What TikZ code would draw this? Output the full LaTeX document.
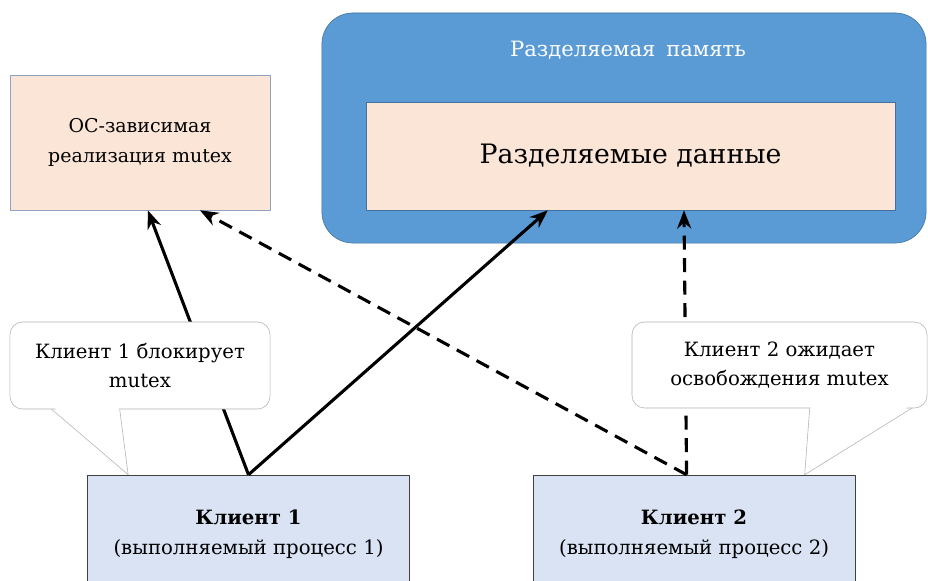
\documentclass[tikz,border=0pt]{standalone}
\usepackage{fontspec}
\setmainfont{DejaVu Serif}
\usetikzlibrary{calc,arrows.meta}
\definecolor{peach}{HTML}{FBE5D6}
\definecolor{shmfill}{HTML}{5B9BD5}
\definecolor{shmedge}{HTML}{41719C}
\definecolor{clientfill}{HTML}{DAE3F3}
\definecolor{osedge}{HTML}{8FA3BF}
\begin{document}
\begin{tikzpicture}[x=0.025cm, y=-0.025cm, line join=round, >={Stealth[length=13pt,width=10pt]},
	box/.style={rectangle, inner sep=0pt, align=center, font=\fontsize{14}{21}\selectfont},
	osbox/.style={box, draw=osedge, fill=peach, minimum width=6.5cm, minimum height=3.375cm, font=\fontsize{13.5}{21}\selectfont},
	clientbox/.style={box, draw=black!75, fill=clientfill, minimum width=8.05cm, minimum height=2.95cm},
	note/.style={box, draw=black!30, fill=white, rounded corners=9pt, font=\fontsize{14}{20}\selectfont},
	tail/.style={draw=black!30},
	link/.style={->, line width=2.2pt},
	waitlink/.style={link, dash pattern=on 10pt off 6pt}]
	\useasboundingbox (0,0) rectangle (928,580);
	\clip (0,0) rectangle (928,580);
	% shared memory
	\node[box, draw=shmedge, fill=shmfill, rounded corners=22pt, minimum width=15.1cm, minimum height=5.75cm] (shm) at (624,128) {};
	\node[font=\fontsize{15}{21}\selectfont, text=white] (shmtitle) at (628,50) {Разделяемая\hspace{0.2em} память};
	\node[box, draw=shmedge, fill=peach, minimum width=13.225cm, minimum height=2.7cm, font=\fontsize{19}{28}\selectfont] (data) at (630.5,156) {Разделяемые данные};
	\node[osbox] (os) at (140,142.5) {ОС-зависимая\\реализация mutex};
	% clients
	\node[clientbox] (c1) at (248.5,534) {\textbf{Клиент 1}\\(выполняемый процесс 1)};
	\node[clientbox] (c2) at (694,534) {\textbf{Клиент 2}\\(выполняемый процесс 2)};
	\coordinate (c2top) at ($(c2.north west)!0.477!(c2.north east)$);
	\draw[link] (c1.north) -- ($(os.south west)!0.53!(os.south east)$);
	\draw[link] (c1.north) -- ($(data.south west)!0.344!(data.south east)$);
	\draw[waitlink] (c2top) -- ($(os.south west)!0.73!(os.south east)$);
	\draw[waitlink] (c2top) -- ($(data.south west)!0.601!(data.south east)$);
	% callouts
	\node[note, minimum width=6.5cm, minimum height=2.175cm] (n1) at (140,365.5) {Клиент 1 блокирует\\mutex};
	\coordinate (t1) at ($(c1.north west)+(41,0)$);
	\fill[white] ($(n1.south west)+(43,-3)$) -- (t1) -- ($(n1.south west)+(109,-3)$) -- cycle;
	\draw[tail] ($(n1.south west)+(42,0)$) -- (t1) -- ($(n1.south west)+(110,0)$);
	\node[note, minimum width=7.375cm, minimum height=2.15cm] (n2) at (779.5,365) {Клиент 2 ожидает\\освобождения mutex};
	\coordinate (t2) at ($(c2.north west)+(272,0)$);
	\fill[white] ($(n2.south west)+(179,-3)$) -- (t2) -- ($(n2.south west)+(279,-3)$) -- cycle;
	\draw[tail] ($(n2.south west)+(178,0)$) -- (t2) -- ($(n2.south west)+(280,0)$);
\end{tikzpicture}
\end{document}
